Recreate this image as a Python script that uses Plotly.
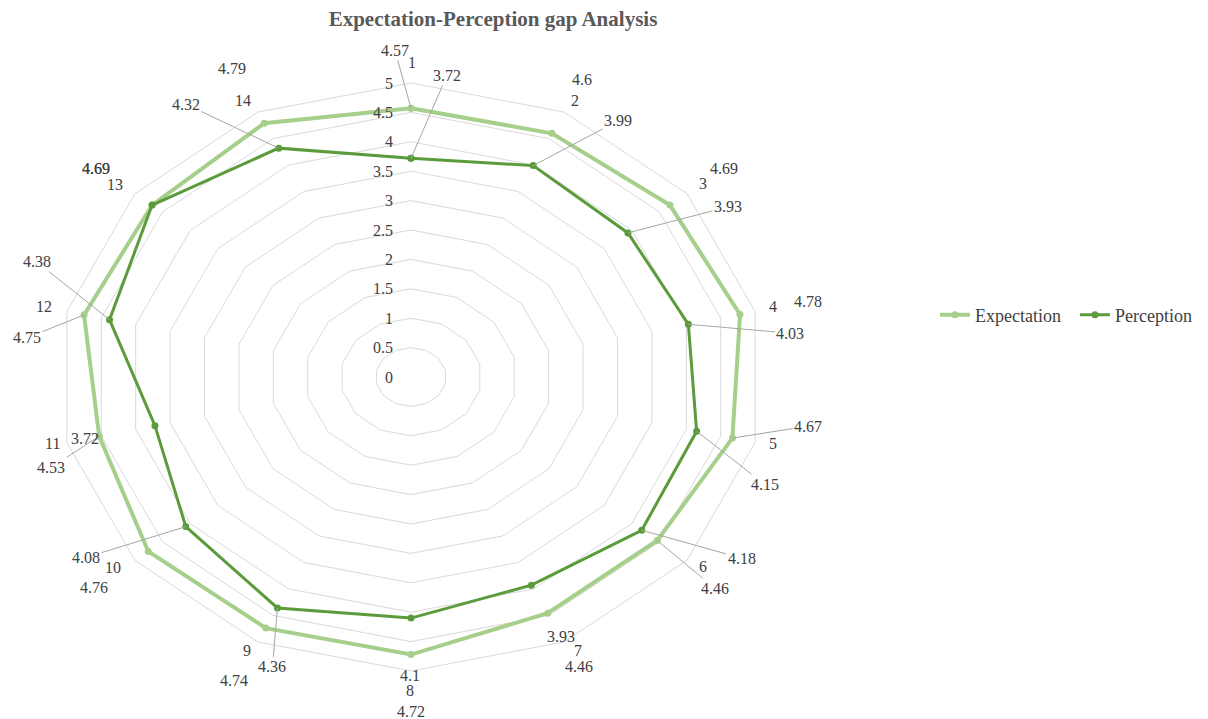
import numpy as np
import plotly.graph_objects as go

# ---------------- data ----------------
categories = ["1", "2", "3", "4", "5", "6", "7", "8", "9", "10", "11", "12", "13", "14"]
expectation = [4.57, 4.6, 4.69, 4.78, 4.67, 4.46, 4.46, 4.72, 4.74, 4.76, 4.53, 4.75, 4.69, 4.79]
perception = [3.72, 3.99, 3.93, 4.03, 4.15, 4.18, 3.93, 4.1, 4.36, 4.08, 3.72, 4.38, 4.69, 4.32]
radial_ticks = [0, 0.5, 1, 1.5, 2, 2.5, 3, 3.5, 4, 4.5, 5]
radial_tick_labels = ["0", "0.5", "1", "1.5", "2", "2.5", "3", "3.5", "4", "4.5", "5"]
series_names = ["Expectation", "Perception"]
r_max = 5

# ---------------- layout geometry (page pixels) ----------------
W, H = 1208, 719
CX, CY = 411, 377          # centre of radar in px
KX, KY = 70.6, 58.8        # px per unit radius (horizontal / vertical)

# category label offsets from outer-ring vertex (px, y down)
cat_off = [(1, -21), (11, -12), (16, -10), (18, -5), (18, 1), (16, 6), (14, 9),
           (-1, 19), (-11, 9), (-22, 7), (-14, 1), (-23, -5), (-20, -9), (-15, -12)]
# data label offsets (px, y down) and whether a leader line is drawn
exp_off = [(-16, -58), (30, -54), (54, -37), (68, -13), (76, -12), (58, 48), (31, 53),
           (0, 57), (-32, 52), (-54, 36), (-48, 31), (-57, 23), (-56, -37), (-32, -55)]
exp_line = [1, 0, 0, 0, 1, 1, 0, 0, 0, 0, 1, 1, 0, 0]
perc_off = [(36, -83), (85, -45), (100, -26), (102, 9), (68, 53), (100, 28), (30, 51),
            (-1, 57), (-5, 59), (-100, 31), (-70, 13), (-73, -58), (-56, -37), (-93, -44)]
perc_line = [1, 1, 1, 1, 1, 1, 0, 0, 1, 1, 0, 1, 0, 1]

EXP_COLOR = "#a6cf8b"
PERC_COLOR = "#5b9b3b"
GRID_COLOR = "#d9d9d9"
TEXT_COLOR = "#404040"
FONT = "Liberation Serif"
LABEL_SIZE = 16
LEGEND_PAD = "\u00a0\u00a0"   # extra gap after first legend entry

n = len(categories)
theta = np.deg2rad(90 - np.arange(n) * 360.0 / n)


def to_xy(r):
    r = np.asarray(r, dtype=float)
    return r * np.cos(theta), r * np.sin(theta)


def closed(a):
    a = list(a)
    return a + [a[0]]


fig = go.Figure()

# grid rings
gx, gy = [], []
for v in radial_ticks[1:]:
    x, y = to_xy([v] * n)
    gx += closed(x) + [None]
    gy += closed(y) + [None]
fig.add_trace(go.Scatter(x=gx, y=gy, mode="lines", line=dict(color=GRID_COLOR, width=1),
                         hoverinfo="skip", showlegend=False))

# series
ex, ey = to_xy(expectation)
px_, py_ = to_xy(perception)
fig.add_trace(go.Scatter(x=closed(ex), y=closed(ey), mode="lines+markers",
                         name=series_names[0] + LEGEND_PAD,
                         line=dict(color=EXP_COLOR, width=4), marker=dict(size=7, color=EXP_COLOR)))
fig.add_trace(go.Scatter(x=closed(px_), y=closed(py_), mode="lines+markers",
                         name=series_names[1],
                         line=dict(color=PERC_COLOR, width=3), marker=dict(size=7, color=PERC_COLOR)))

annotations = []
# radial tick labels
for v, lab in zip(radial_ticks, radial_tick_labels):
    annotations.append(dict(x=-16 / KX, y=v, text=lab, showarrow=False, xanchor="right",
                            yanchor="middle", font=dict(family=FONT, size=LABEL_SIZE, color=TEXT_COLOR)))
# category labels
vx, vy = to_xy([r_max] * n)
for x, y, lab, (dx, dy) in zip(vx, vy, categories, cat_off):
    annotations.append(dict(x=x, y=y, text=lab, showarrow=False, xanchor="center",
                            yanchor="middle", xshift=dx, yshift=-dy,
                            font=dict(family=FONT, size=LABEL_SIZE, color=TEXT_COLOR)))


def add_labels(xs, ys, vals, offs, lines):
    for x, y, v, (dx, dy), ln in zip(xs, ys, vals, offs, lines):
        annotations.append(dict(
            x=x, y=y, ax=dx, ay=dy, text=f"{v:g}", showarrow=True, arrowhead=0,
            arrowwidth=1, standoff=0,
            arrowcolor="#a6a6a6" if ln else "rgba(0,0,0,0)",
            font=dict(family=FONT, size=LABEL_SIZE, color=TEXT_COLOR)))


add_labels(ex, ey, expectation, exp_off, exp_line)
add_labels(px_, py_, perception, perc_off, perc_line)

fig.update_layout(
    width=W, height=H,
    margin=dict(l=0, r=0, t=0, b=0),
    paper_bgcolor="white", plot_bgcolor="white",
    xaxis=dict(range=[(0 - CX) / KX, (W - CX) / KX], visible=False, fixedrange=True),
    yaxis=dict(range=[(CY - H) / KY, CY / KY], visible=False, fixedrange=True),
    title=dict(text="<b>Expectation-Perception gap Analysis</b>",
               x=493 / W, xanchor="center", y=1 - 19 / H, yanchor="middle",
               font=dict(family=FONT, size=21, color="#595959")),
    legend=dict(orientation="h", x=935 / W, y=1 - 315 / H,
                xanchor="left", yanchor="middle",
                font=dict(family=FONT, size=18, color=TEXT_COLOR), bgcolor="rgba(0,0,0,0)"),
    annotations=annotations,
    showlegend=True,
)

fig.write_html(
    "out.html",
    config={"displayModeBar": False},
    post_script=("document.documentElement.style.margin='0';document.body.style.margin='0';"
                 "document.body.style.padding='0';document.documentElement.style.overflow='hidden';"
                 "document.body.style.overflow='hidden';window.scrollTo(0,0);"),
)
